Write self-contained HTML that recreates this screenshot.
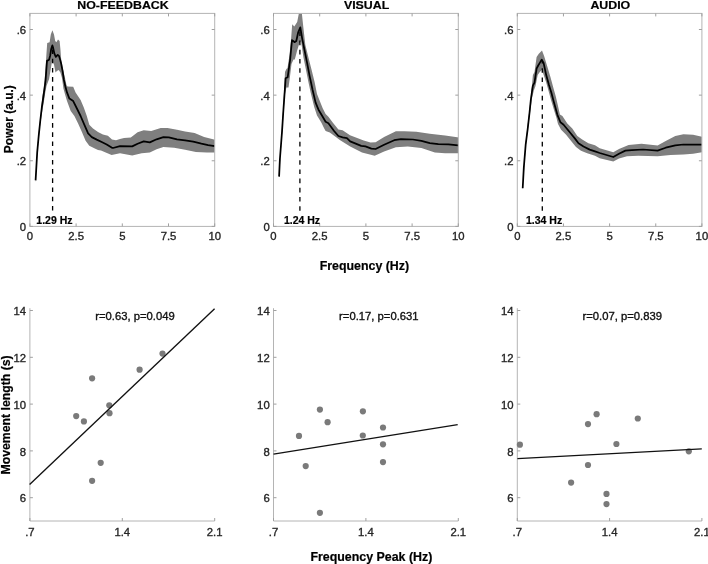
<!DOCTYPE html><html><head><meta charset="utf-8"><style>
html,body{margin:0;padding:0;background:#fff;}
svg{display:block;will-change:transform;filter:blur(0.3px);}
text{font-family:"Liberation Sans", sans-serif;}
text.r{stroke:#262626;stroke-width:0.35px;}
text.c{stroke:#111;stroke-width:0.35px;}
text.b{stroke:#000;stroke-width:0.2px;}
</style></head><body>
<svg width="708" height="564" viewBox="0 0 708 564">
<rect width="708" height="564" fill="#fff"/>
<defs><clipPath id="cp0"><rect x="29.90" y="13.40" width="184.80" height="213.00"/></clipPath></defs>
<g clip-path="url(#cp0)">
<polygon points="35.60,178.50 37.20,150.00 38.80,132.00 40.40,117.00 41.50,106.00 42.40,96.00 43.40,90.00 44.40,82.00 45.30,72.00 46.30,56.00 47.20,43.00 49.60,42.20 50.80,34.60 52.40,30.20 54.00,34.60 55.20,41.00 56.40,42.20 58.00,39.40 59.60,41.00 60.40,49.00 61.10,58.50 63.10,70.00 65.00,78.00 66.50,85.30 67.50,86.60 73.20,86.80 75.60,92.40 80.60,99.90 83.70,107.30 86.80,116.00 89.30,124.70 93.00,128.40 98.00,132.10 102.90,134.60 107.90,135.80 112.00,139.60 116.00,140.20 120.00,139.00 124.00,138.00 130.80,137.40 137.60,132.20 143.70,130.20 151.20,131.10 160.70,128.10 167.50,127.90 177.00,129.80 185.10,131.50 194.60,132.90 204.10,137.00 216.00,140.00 216.00,152.50 206.80,152.50 195.90,151.90 185.10,149.80 174.20,147.80 163.40,147.10 156.60,149.20 149.80,152.50 141.70,153.20 132.20,155.50 120.00,153.20 111.60,154.90 101.00,150.50 98.00,150.00 94.30,148.20 89.30,145.80 85.60,140.80 81.90,132.10 78.10,123.40 74.40,116.00 70.70,111.00 67.00,101.10 65.50,96.00 63.40,88.50 62.00,78.00 60.40,72.60 58.70,70.10 56.90,71.10 55.50,72.60 54.00,64.80 52.60,61.20 51.90,62.00 49.10,79.00 46.50,86.00 45.20,93.00 44.00,101.00 42.80,108.00 41.50,116.00 40.20,125.00 38.80,138.00 37.20,155.00 35.60,183.00" fill="#7f7f7f" stroke="none"/>
</g>
<polyline points="35.60,180.40 37.20,152.40 38.80,134.90 40.20,121.50 41.80,107.50 43.40,96.50 44.60,88.00 45.60,80.00 46.30,70.00 47.00,60.90 49.10,59.80 50.20,55.50 51.20,49.00 52.40,45.40 53.20,48.10 54.40,53.70 55.80,56.90 57.70,54.80 59.00,55.90 60.10,59.60 61.20,63.80 62.60,71.00 63.90,80.00 65.50,87.00 67.00,92.40 69.40,98.60 73.20,101.10 76.90,108.50 80.60,116.00 84.30,124.70 88.10,133.30 91.80,137.10 96.70,139.60 101.70,142.00 106.70,144.50 111.60,147.60 113.00,148.00 120.00,146.20 132.20,146.40 137.60,143.70 143.70,141.40 149.80,142.40 156.60,139.30 163.40,137.20 168.80,137.40 177.00,139.30 185.10,140.30 193.20,141.70 201.40,143.70 208.10,145.10 214.70,146.10" fill="none" stroke="#000" stroke-width="1.75" stroke-linejoin="round"/>
<line x1="52.60" y1="210.50" x2="52.60" y2="45.40" stroke="#000" stroke-width="1.3" stroke-dasharray="4.6 4.6"/>
<rect x="29.90" y="13.40" width="184.80" height="213.00" fill="none" stroke="#b4b4b4" stroke-width="1"/>
<line x1="29.90" y1="226.40" x2="29.90" y2="223.40" stroke="#a0a0a0" stroke-width="1"/>
<line x1="29.90" y1="13.40" x2="29.90" y2="16.40" stroke="#a0a0a0" stroke-width="1"/>
<text x="29.90" y="239.8" class="r" font-size="11.3" fill="#262626" text-anchor="middle">0</text>
<line x1="76.10" y1="226.40" x2="76.10" y2="223.40" stroke="#a0a0a0" stroke-width="1"/>
<line x1="76.10" y1="13.40" x2="76.10" y2="16.40" stroke="#a0a0a0" stroke-width="1"/>
<text x="76.10" y="239.8" class="r" font-size="11.3" fill="#262626" text-anchor="middle">2.5</text>
<line x1="122.30" y1="226.40" x2="122.30" y2="223.40" stroke="#a0a0a0" stroke-width="1"/>
<line x1="122.30" y1="13.40" x2="122.30" y2="16.40" stroke="#a0a0a0" stroke-width="1"/>
<text x="122.30" y="239.8" class="r" font-size="11.3" fill="#262626" text-anchor="middle">5</text>
<line x1="168.50" y1="226.40" x2="168.50" y2="223.40" stroke="#a0a0a0" stroke-width="1"/>
<line x1="168.50" y1="13.40" x2="168.50" y2="16.40" stroke="#a0a0a0" stroke-width="1"/>
<text x="168.50" y="239.8" class="r" font-size="11.3" fill="#262626" text-anchor="middle">7.5</text>
<line x1="214.70" y1="226.40" x2="214.70" y2="223.40" stroke="#a0a0a0" stroke-width="1"/>
<line x1="214.70" y1="13.40" x2="214.70" y2="16.40" stroke="#a0a0a0" stroke-width="1"/>
<text x="214.70" y="239.8" class="r" font-size="11.3" fill="#262626" text-anchor="middle">10</text>
<line x1="29.90" y1="226.40" x2="32.90" y2="226.40" stroke="#a0a0a0" stroke-width="1"/>
<line x1="214.70" y1="226.40" x2="211.70" y2="226.40" stroke="#a0a0a0" stroke-width="1"/>
<text x="26.10" y="231.10" class="r" font-size="11.3" fill="#262626" text-anchor="end">0</text>
<line x1="29.90" y1="160.77" x2="32.90" y2="160.77" stroke="#a0a0a0" stroke-width="1"/>
<line x1="214.70" y1="160.77" x2="211.70" y2="160.77" stroke="#a0a0a0" stroke-width="1"/>
<text x="26.10" y="165.47" class="r" font-size="11.3" fill="#262626" text-anchor="end">.2</text>
<line x1="29.90" y1="95.13" x2="32.90" y2="95.13" stroke="#a0a0a0" stroke-width="1"/>
<line x1="214.70" y1="95.13" x2="211.70" y2="95.13" stroke="#a0a0a0" stroke-width="1"/>
<text x="26.10" y="99.83" class="r" font-size="11.3" fill="#262626" text-anchor="end">.4</text>
<line x1="29.90" y1="29.50" x2="32.90" y2="29.50" stroke="#a0a0a0" stroke-width="1"/>
<line x1="214.70" y1="29.50" x2="211.70" y2="29.50" stroke="#a0a0a0" stroke-width="1"/>
<text x="26.10" y="34.20" class="r" font-size="11.3" fill="#262626" text-anchor="end">.6</text>
<text x="36.30" y="224.2" font-size="10.5" class="b" font-weight="bold" fill="#000">1.29 Hz</text>
<defs><clipPath id="cp1"><rect x="273.50" y="13.40" width="184.80" height="213.00"/></clipPath></defs>
<g clip-path="url(#cp1)">
<polygon points="279.10,175.00 281.00,144.00 283.20,108.00 285.00,72.00 286.40,68.90 287.50,68.00 289.50,55.00 291.00,40.00 292.20,24.20 294.30,26.40 297.20,22.10 298.80,13.70 299.50,5.00 301.50,5.00 301.90,13.70 303.20,26.10 305.30,44.80 308.40,57.20 311.50,69.60 314.60,82.00 317.00,94.10 319.90,101.20 322.70,108.30 325.60,114.00 328.40,116.80 332.70,122.50 338.40,129.60 342.60,130.30 350.00,135.30 363.70,140.50 370.50,142.50 375.60,142.20 384.10,137.10 395.90,131.20 404.40,131.20 416.30,131.70 429.80,133.70 445.10,135.40 459.00,137.50 459.00,153.20 445.10,153.20 434.90,152.40 421.40,148.10 407.80,146.40 395.90,147.30 384.10,151.50 374.70,155.80 362.00,152.40 350.20,146.40 343.00,142.00 339.80,140.10 335.50,136.70 329.80,132.40 325.60,131.00 324.10,128.20 321.30,122.50 317.00,115.40 314.20,106.90 310.70,92.70 308.40,82.00 305.90,69.60 303.40,57.20 301.00,41.00 299.30,43.40 297.00,51.00 294.80,59.50 293.50,59.50 291.50,64.00 289.80,78.00 288.50,87.40 286.40,87.60 284.80,95.00 283.20,118.00 281.00,149.00 279.10,178.00" fill="#7f7f7f" stroke="none"/>
</g>
<polyline points="279.10,176.60 279.90,159.00 280.90,146.30 282.00,131.90 283.20,113.00 284.40,96.00 285.60,78.20 287.70,77.20 288.90,68.50 290.10,60.00 292.00,40.20 293.20,41.00 294.50,42.20 296.30,41.00 298.20,32.30 300.30,27.40 302.20,38.60 304.70,51.00 307.20,63.40 309.60,75.80 312.50,89.50 315.60,102.60 318.50,109.70 322.70,116.80 325.60,121.80 328.40,123.20 334.10,131.00 338.40,136.00 342.60,137.40 346.90,138.10 350.20,141.40 361.20,145.90 365.40,146.40 371.40,148.60 375.60,149.00 384.10,144.70 394.20,140.20 401.00,139.20 412.90,139.50 421.40,140.80 429.80,143.10 438.30,144.20 448.50,144.40 458.20,145.30" fill="none" stroke="#000" stroke-width="1.75" stroke-linejoin="round"/>
<line x1="299.90" y1="210.80" x2="299.90" y2="27.40" stroke="#000" stroke-width="1.3" stroke-dasharray="4.6 4.6"/>
<rect x="273.50" y="13.40" width="184.80" height="213.00" fill="none" stroke="#b4b4b4" stroke-width="1"/>
<line x1="273.50" y1="226.40" x2="273.50" y2="223.40" stroke="#a0a0a0" stroke-width="1"/>
<line x1="273.50" y1="13.40" x2="273.50" y2="16.40" stroke="#a0a0a0" stroke-width="1"/>
<text x="273.50" y="239.8" class="r" font-size="11.3" fill="#262626" text-anchor="middle">0</text>
<line x1="319.70" y1="226.40" x2="319.70" y2="223.40" stroke="#a0a0a0" stroke-width="1"/>
<line x1="319.70" y1="13.40" x2="319.70" y2="16.40" stroke="#a0a0a0" stroke-width="1"/>
<text x="319.70" y="239.8" class="r" font-size="11.3" fill="#262626" text-anchor="middle">2.5</text>
<line x1="365.90" y1="226.40" x2="365.90" y2="223.40" stroke="#a0a0a0" stroke-width="1"/>
<line x1="365.90" y1="13.40" x2="365.90" y2="16.40" stroke="#a0a0a0" stroke-width="1"/>
<text x="365.90" y="239.8" class="r" font-size="11.3" fill="#262626" text-anchor="middle">5</text>
<line x1="412.10" y1="226.40" x2="412.10" y2="223.40" stroke="#a0a0a0" stroke-width="1"/>
<line x1="412.10" y1="13.40" x2="412.10" y2="16.40" stroke="#a0a0a0" stroke-width="1"/>
<text x="412.10" y="239.8" class="r" font-size="11.3" fill="#262626" text-anchor="middle">7.5</text>
<line x1="458.30" y1="226.40" x2="458.30" y2="223.40" stroke="#a0a0a0" stroke-width="1"/>
<line x1="458.30" y1="13.40" x2="458.30" y2="16.40" stroke="#a0a0a0" stroke-width="1"/>
<text x="458.30" y="239.8" class="r" font-size="11.3" fill="#262626" text-anchor="middle">10</text>
<line x1="273.50" y1="226.40" x2="276.50" y2="226.40" stroke="#a0a0a0" stroke-width="1"/>
<line x1="458.30" y1="226.40" x2="455.30" y2="226.40" stroke="#a0a0a0" stroke-width="1"/>
<text x="269.70" y="231.10" class="r" font-size="11.3" fill="#262626" text-anchor="end">0</text>
<line x1="273.50" y1="160.77" x2="276.50" y2="160.77" stroke="#a0a0a0" stroke-width="1"/>
<line x1="458.30" y1="160.77" x2="455.30" y2="160.77" stroke="#a0a0a0" stroke-width="1"/>
<text x="269.70" y="165.47" class="r" font-size="11.3" fill="#262626" text-anchor="end">.2</text>
<line x1="273.50" y1="95.13" x2="276.50" y2="95.13" stroke="#a0a0a0" stroke-width="1"/>
<line x1="458.30" y1="95.13" x2="455.30" y2="95.13" stroke="#a0a0a0" stroke-width="1"/>
<text x="269.70" y="99.83" class="r" font-size="11.3" fill="#262626" text-anchor="end">.4</text>
<line x1="273.50" y1="29.50" x2="276.50" y2="29.50" stroke="#a0a0a0" stroke-width="1"/>
<line x1="458.30" y1="29.50" x2="455.30" y2="29.50" stroke="#a0a0a0" stroke-width="1"/>
<text x="269.70" y="34.20" class="r" font-size="11.3" fill="#262626" text-anchor="end">.6</text>
<text x="283.90" y="224.2" font-size="10.5" class="b" font-weight="bold" fill="#000">1.24 Hz</text>
<defs><clipPath id="cp2"><rect x="517.30" y="13.40" width="184.60" height="213.00"/></clipPath></defs>
<g clip-path="url(#cp2)">
<polygon points="522.70,187.00 525.70,142.00 529.60,108.00 531.50,90.00 532.90,75.10 534.50,72.00 536.60,57.00 538.80,53.80 542.00,50.60 544.10,56.00 547.30,66.60 550.50,77.20 553.70,88.90 555.80,96.40 558.00,106.00 559.90,114.50 562.40,116.10 567.30,123.50 572.30,128.50 577.30,135.90 582.20,139.60 588.40,143.30 595.00,145.20 599.70,148.20 613.30,152.20 619.00,149.00 628.60,145.00 641.50,143.80 657.60,145.40 665.70,140.90 675.30,136.10 683.40,134.20 693.10,134.80 703.00,137.00 703.00,152.00 693.10,153.80 683.40,154.60 670.50,155.10 657.60,156.20 638.30,155.70 627.00,156.20 619.00,158.60 613.30,161.50 599.70,158.30 595.00,155.80 587.20,153.30 581.00,150.80 576.00,147.10 571.10,140.90 566.10,134.70 561.10,129.70 558.00,124.00 556.50,118.00 554.00,110.00 551.00,100.00 548.30,90.00 546.20,82.60 544.10,76.20 542.00,69.80 539.80,71.90 537.70,75.10 535.50,86.00 534.00,90.00 532.00,98.00 529.60,116.00 525.70,147.00 522.70,190.00" fill="#7f7f7f" stroke="none"/>
</g>
<polyline points="522.70,188.30 523.80,167.80 525.70,144.40 527.70,128.80 529.60,112.00 530.80,100.00 532.20,90.00 532.90,85.70 534.50,82.60 536.60,68.70 538.20,65.50 539.80,62.90 541.70,59.70 543.60,62.90 546.20,75.10 548.90,84.70 551.30,92.50 553.70,101.50 557.40,114.80 560.50,122.30 563.60,124.70 569.80,132.20 574.80,138.40 578.50,143.30 583.50,146.50 589.70,149.60 595.00,151.40 599.70,153.00 613.30,157.00 619.00,153.80 625.40,150.60 631.90,150.10 643.10,149.50 657.60,150.60 665.70,147.70 675.30,145.30 683.40,144.50 693.10,144.50 701.90,144.60" fill="none" stroke="#000" stroke-width="1.75" stroke-linejoin="round"/>
<line x1="542.30" y1="210.80" x2="542.30" y2="59.70" stroke="#000" stroke-width="1.3" stroke-dasharray="4.6 4.6"/>
<rect x="517.30" y="13.40" width="184.60" height="213.00" fill="none" stroke="#b4b4b4" stroke-width="1"/>
<line x1="517.30" y1="226.40" x2="517.30" y2="223.40" stroke="#a0a0a0" stroke-width="1"/>
<line x1="517.30" y1="13.40" x2="517.30" y2="16.40" stroke="#a0a0a0" stroke-width="1"/>
<text x="517.30" y="239.8" class="r" font-size="11.3" fill="#262626" text-anchor="middle">0</text>
<line x1="563.45" y1="226.40" x2="563.45" y2="223.40" stroke="#a0a0a0" stroke-width="1"/>
<line x1="563.45" y1="13.40" x2="563.45" y2="16.40" stroke="#a0a0a0" stroke-width="1"/>
<text x="563.45" y="239.8" class="r" font-size="11.3" fill="#262626" text-anchor="middle">2.5</text>
<line x1="609.60" y1="226.40" x2="609.60" y2="223.40" stroke="#a0a0a0" stroke-width="1"/>
<line x1="609.60" y1="13.40" x2="609.60" y2="16.40" stroke="#a0a0a0" stroke-width="1"/>
<text x="609.60" y="239.8" class="r" font-size="11.3" fill="#262626" text-anchor="middle">5</text>
<line x1="655.75" y1="226.40" x2="655.75" y2="223.40" stroke="#a0a0a0" stroke-width="1"/>
<line x1="655.75" y1="13.40" x2="655.75" y2="16.40" stroke="#a0a0a0" stroke-width="1"/>
<text x="655.75" y="239.8" class="r" font-size="11.3" fill="#262626" text-anchor="middle">7.5</text>
<line x1="701.90" y1="226.40" x2="701.90" y2="223.40" stroke="#a0a0a0" stroke-width="1"/>
<line x1="701.90" y1="13.40" x2="701.90" y2="16.40" stroke="#a0a0a0" stroke-width="1"/>
<text x="701.90" y="239.8" class="r" font-size="11.3" fill="#262626" text-anchor="middle">10</text>
<line x1="517.30" y1="226.40" x2="520.30" y2="226.40" stroke="#a0a0a0" stroke-width="1"/>
<line x1="701.90" y1="226.40" x2="698.90" y2="226.40" stroke="#a0a0a0" stroke-width="1"/>
<text x="513.50" y="231.10" class="r" font-size="11.3" fill="#262626" text-anchor="end">0</text>
<line x1="517.30" y1="160.77" x2="520.30" y2="160.77" stroke="#a0a0a0" stroke-width="1"/>
<line x1="701.90" y1="160.77" x2="698.90" y2="160.77" stroke="#a0a0a0" stroke-width="1"/>
<text x="513.50" y="165.47" class="r" font-size="11.3" fill="#262626" text-anchor="end">.2</text>
<line x1="517.30" y1="95.13" x2="520.30" y2="95.13" stroke="#a0a0a0" stroke-width="1"/>
<line x1="701.90" y1="95.13" x2="698.90" y2="95.13" stroke="#a0a0a0" stroke-width="1"/>
<text x="513.50" y="99.83" class="r" font-size="11.3" fill="#262626" text-anchor="end">.4</text>
<line x1="517.30" y1="29.50" x2="520.30" y2="29.50" stroke="#a0a0a0" stroke-width="1"/>
<line x1="701.90" y1="29.50" x2="698.90" y2="29.50" stroke="#a0a0a0" stroke-width="1"/>
<text x="513.50" y="34.20" class="r" font-size="11.3" fill="#262626" text-anchor="end">.6</text>
<text x="526.00" y="224.2" font-size="10.5" class="b" font-weight="bold" fill="#000">1.34 Hz</text>
<text transform="translate(123.00,9.0) scale(1.05,1)" font-size="11.8" class="b" font-weight="bold" fill="#000" text-anchor="middle">NO-FEEDBACK</text>
<text transform="translate(366.60,9.0) scale(1.05,1)" font-size="11.8" class="b" font-weight="bold" fill="#000" text-anchor="middle">VISUAL</text>
<text transform="translate(610.30,9.0) scale(1.05,1)" font-size="11.8" class="b" font-weight="bold" fill="#000" text-anchor="middle">AUDIO</text>
<text x="364.4" y="269.9" font-size="12.4" class="b" font-weight="bold" fill="#000" text-anchor="middle">Frequency (Hz)</text>
<text x="371.4" y="560.8" font-size="12.4" class="b" font-weight="bold" fill="#000" text-anchor="middle">Frequency Peak (Hz)</text>
<text transform="translate(12.8,119.2) rotate(-90)" font-size="12" class="b" font-weight="bold" fill="#000" text-anchor="middle">Power (a.u.)</text>
<text transform="translate(10.2,414.9) rotate(-90)" font-size="12.25" class="b" font-weight="bold" fill="#000" text-anchor="middle">Movement length (s)</text>
<path d="M29.90 308.20 V521.00 H214.70" fill="none" stroke="#b4b4b4" stroke-width="1"/>
<line x1="29.90" y1="521.00" x2="29.90" y2="518.00" stroke="#a0a0a0" stroke-width="1"/>
<text x="29.90" y="535.6" class="r" font-size="11.3" fill="#262626" text-anchor="middle">.7</text>
<line x1="122.30" y1="521.00" x2="122.30" y2="518.00" stroke="#a0a0a0" stroke-width="1"/>
<text x="122.30" y="535.6" class="r" font-size="11.3" fill="#262626" text-anchor="middle">1.4</text>
<line x1="214.70" y1="521.00" x2="214.70" y2="518.00" stroke="#a0a0a0" stroke-width="1"/>
<text x="214.70" y="535.6" class="r" font-size="11.3" fill="#262626" text-anchor="middle">2.1</text>
<line x1="29.90" y1="497.70" x2="32.90" y2="497.70" stroke="#a0a0a0" stroke-width="1"/>
<text x="26.10" y="502.40" class="r" font-size="11.3" fill="#262626" text-anchor="end">6</text>
<line x1="29.90" y1="450.90" x2="32.90" y2="450.90" stroke="#a0a0a0" stroke-width="1"/>
<text x="26.10" y="455.60" class="r" font-size="11.3" fill="#262626" text-anchor="end">8</text>
<line x1="29.90" y1="404.10" x2="32.90" y2="404.10" stroke="#a0a0a0" stroke-width="1"/>
<text x="26.10" y="408.80" class="r" font-size="11.3" fill="#262626" text-anchor="end">10</text>
<line x1="29.90" y1="357.30" x2="32.90" y2="357.30" stroke="#a0a0a0" stroke-width="1"/>
<text x="26.10" y="362.00" class="r" font-size="11.3" fill="#262626" text-anchor="end">12</text>
<line x1="29.90" y1="310.50" x2="32.90" y2="310.50" stroke="#a0a0a0" stroke-width="1"/>
<text x="26.10" y="315.20" class="r" font-size="11.3" fill="#262626" text-anchor="end">14</text>
<circle cx="92.10" cy="378.30" r="3.1" fill="#7a7a7a"/>
<circle cx="139.60" cy="369.70" r="3.1" fill="#7a7a7a"/>
<circle cx="162.50" cy="353.60" r="3.1" fill="#7a7a7a"/>
<circle cx="109.30" cy="405.30" r="3.1" fill="#7a7a7a"/>
<circle cx="109.50" cy="413.20" r="3.1" fill="#7a7a7a"/>
<circle cx="76.20" cy="416.10" r="3.1" fill="#7a7a7a"/>
<circle cx="83.90" cy="421.40" r="3.1" fill="#7a7a7a"/>
<circle cx="100.70" cy="462.80" r="3.1" fill="#7a7a7a"/>
<circle cx="92.10" cy="480.80" r="3.1" fill="#7a7a7a"/>
<line x1="29.60" y1="484.60" x2="214.60" y2="308.80" stroke="#111" stroke-width="1.35"/>
<text x="95.30" y="319.8" class="c" font-size="11.25" fill="#111">r=0.63, p=0.049</text>
<path d="M273.50 308.20 V521.00 H458.30" fill="none" stroke="#b4b4b4" stroke-width="1"/>
<line x1="273.50" y1="521.00" x2="273.50" y2="518.00" stroke="#a0a0a0" stroke-width="1"/>
<text x="273.50" y="535.6" class="r" font-size="11.3" fill="#262626" text-anchor="middle">.7</text>
<line x1="365.90" y1="521.00" x2="365.90" y2="518.00" stroke="#a0a0a0" stroke-width="1"/>
<text x="365.90" y="535.6" class="r" font-size="11.3" fill="#262626" text-anchor="middle">1.4</text>
<line x1="458.30" y1="521.00" x2="458.30" y2="518.00" stroke="#a0a0a0" stroke-width="1"/>
<text x="458.30" y="535.6" class="r" font-size="11.3" fill="#262626" text-anchor="middle">2.1</text>
<line x1="273.50" y1="497.70" x2="276.50" y2="497.70" stroke="#a0a0a0" stroke-width="1"/>
<text x="269.70" y="502.40" class="r" font-size="11.3" fill="#262626" text-anchor="end">6</text>
<line x1="273.50" y1="450.90" x2="276.50" y2="450.90" stroke="#a0a0a0" stroke-width="1"/>
<text x="269.70" y="455.60" class="r" font-size="11.3" fill="#262626" text-anchor="end">8</text>
<line x1="273.50" y1="404.10" x2="276.50" y2="404.10" stroke="#a0a0a0" stroke-width="1"/>
<text x="269.70" y="408.80" class="r" font-size="11.3" fill="#262626" text-anchor="end">10</text>
<line x1="273.50" y1="357.30" x2="276.50" y2="357.30" stroke="#a0a0a0" stroke-width="1"/>
<text x="269.70" y="362.00" class="r" font-size="11.3" fill="#262626" text-anchor="end">12</text>
<line x1="273.50" y1="310.50" x2="276.50" y2="310.50" stroke="#a0a0a0" stroke-width="1"/>
<text x="269.70" y="315.20" class="r" font-size="11.3" fill="#262626" text-anchor="end">14</text>
<circle cx="319.90" cy="409.60" r="3.1" fill="#7a7a7a"/>
<circle cx="327.60" cy="422.20" r="3.1" fill="#7a7a7a"/>
<circle cx="299.00" cy="435.90" r="3.1" fill="#7a7a7a"/>
<circle cx="305.70" cy="466.10" r="3.1" fill="#7a7a7a"/>
<circle cx="362.90" cy="411.30" r="3.1" fill="#7a7a7a"/>
<circle cx="383.00" cy="427.50" r="3.1" fill="#7a7a7a"/>
<circle cx="362.80" cy="435.50" r="3.1" fill="#7a7a7a"/>
<circle cx="383.00" cy="444.30" r="3.1" fill="#7a7a7a"/>
<circle cx="383.00" cy="462.10" r="3.1" fill="#7a7a7a"/>
<circle cx="319.90" cy="512.80" r="3.1" fill="#7a7a7a"/>
<line x1="273.50" y1="454.10" x2="457.70" y2="424.70" stroke="#111" stroke-width="1.35"/>
<text x="339.10" y="319.8" class="c" font-size="11.25" fill="#111">r=0.17, p=0.631</text>
<path d="M517.30 308.20 V521.00 H701.90" fill="none" stroke="#b4b4b4" stroke-width="1"/>
<line x1="517.30" y1="521.00" x2="517.30" y2="518.00" stroke="#a0a0a0" stroke-width="1"/>
<text x="517.30" y="535.6" class="r" font-size="11.3" fill="#262626" text-anchor="middle">.7</text>
<line x1="609.60" y1="521.00" x2="609.60" y2="518.00" stroke="#a0a0a0" stroke-width="1"/>
<text x="609.60" y="535.6" class="r" font-size="11.3" fill="#262626" text-anchor="middle">1.4</text>
<line x1="701.90" y1="521.00" x2="701.90" y2="518.00" stroke="#a0a0a0" stroke-width="1"/>
<text x="701.90" y="535.6" class="r" font-size="11.3" fill="#262626" text-anchor="middle">2.1</text>
<line x1="517.30" y1="497.70" x2="520.30" y2="497.70" stroke="#a0a0a0" stroke-width="1"/>
<text x="513.50" y="502.40" class="r" font-size="11.3" fill="#262626" text-anchor="end">6</text>
<line x1="517.30" y1="450.90" x2="520.30" y2="450.90" stroke="#a0a0a0" stroke-width="1"/>
<text x="513.50" y="455.60" class="r" font-size="11.3" fill="#262626" text-anchor="end">8</text>
<line x1="517.30" y1="404.10" x2="520.30" y2="404.10" stroke="#a0a0a0" stroke-width="1"/>
<text x="513.50" y="408.80" class="r" font-size="11.3" fill="#262626" text-anchor="end">10</text>
<line x1="517.30" y1="357.30" x2="520.30" y2="357.30" stroke="#a0a0a0" stroke-width="1"/>
<text x="513.50" y="362.00" class="r" font-size="11.3" fill="#262626" text-anchor="end">12</text>
<line x1="517.30" y1="310.50" x2="520.30" y2="310.50" stroke="#a0a0a0" stroke-width="1"/>
<text x="513.50" y="315.20" class="r" font-size="11.3" fill="#262626" text-anchor="end">14</text>
<circle cx="519.90" cy="444.70" r="3.1" fill="#7a7a7a"/>
<circle cx="596.60" cy="414.20" r="3.1" fill="#7a7a7a"/>
<circle cx="588.00" cy="424.10" r="3.1" fill="#7a7a7a"/>
<circle cx="637.80" cy="418.50" r="3.1" fill="#7a7a7a"/>
<circle cx="616.40" cy="444.00" r="3.1" fill="#7a7a7a"/>
<circle cx="588.00" cy="465.00" r="3.1" fill="#7a7a7a"/>
<circle cx="571.10" cy="482.60" r="3.1" fill="#7a7a7a"/>
<circle cx="606.50" cy="493.90" r="3.1" fill="#7a7a7a"/>
<circle cx="606.50" cy="504.10" r="3.1" fill="#7a7a7a"/>
<circle cx="688.80" cy="451.30" r="3.1" fill="#7a7a7a"/>
<line x1="517.40" y1="458.70" x2="701.80" y2="448.80" stroke="#111" stroke-width="1.35"/>
<text x="582.50" y="319.8" class="c" font-size="11.25" fill="#111">r=0.07, p=0.839</text>
</svg></body></html>
